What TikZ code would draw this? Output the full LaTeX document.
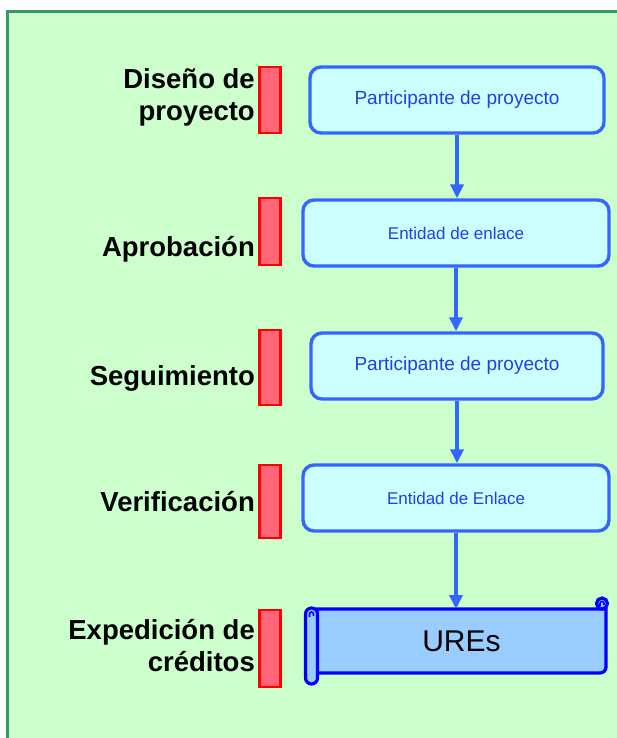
\documentclass[tikz,border=0pt]{standalone}
\usepackage{fontspec}
\setmainfont{Liberation Sans}
\usetikzlibrary{arrows.meta}
\definecolor{bggreen}{RGB}{204,255,204}
\definecolor{bgborder}{RGB}{51,153,102}
\definecolor{boxblue}{RGB}{51,102,255}
\definecolor{boxfill}{RGB}{204,255,255}
\definecolor{boxtext}{RGB}{40,60,230}
\definecolor{barfill}{RGB}{255,102,119}
\definecolor{barline}{RGB}{255,0,0}
\definecolor{scrollfill}{RGB}{153,204,255}
\definecolor{scrollline}{RGB}{0,0,255}
\tikzset{
  stagebox/.style={draw=boxblue, fill=boxfill, line width=3.4pt, rounded corners=11pt,
    minimum height=66pt, text=boxtext, inner sep=0pt, font=\fontsize{17}{20}\selectfont},
  stagebar/.style={draw=barline, fill=barfill, line width=2.6pt, minimum width=21pt, inner sep=0pt},
  stagelabel/.style={anchor=east, align=right, inner sep=0pt, font=\bfseries\fontsize{27.5}{32}\selectfont},
  flow/.style={draw=boxblue, line width=4pt, -{Triangle[length=14pt,width=13pt]}},
}
\begin{document}
\begin{tikzpicture}[x=1pt,y=-1pt]
\useasboundingbox (0,0) rectangle (617,738);
\fill[bggreen] (7,12) rectangle (640,760);
\draw[bgborder, line width=3pt] (640,12) -- (7,12) -- (7,760);

% boxes
\node[stagebox, minimum width=294pt, font=\fontsize{19}{22}\selectfont] (b1) at (457,100) {Participante de proyecto};
\node[stagebox, minimum width=306pt] (b2) at (456,233) {Entidad de enlace};
\node[stagebox, minimum width=292pt, font=\fontsize{19}{22}\selectfont] (b3) at (457,366) {Participante de proyecto};
\node[stagebox, minimum width=306pt] (b4) at (456,498) {Entidad de Enlace};

% scroll
\coordinate (ures) at (461.5,641);
\coordinate (urestop) at (461.5,609);
\begin{scope}[draw=scrollline, line width=3.2pt, fill=scrollfill]
  \filldraw (317,609) -- (606,609) -- (606,667) arc[start angle=0, end angle=90, radius=6] -- (317,673) -- cycle;
  \filldraw (602,603.5) circle[radius=5.5];
  \draw[line width=1.6pt] (600,606) -- (600,603.5) arc[start angle=180, end angle=360, radius=2] -- (604,605);
  \filldraw[rounded corners=6pt] (305.5,608) rectangle (317.5,684);
  \draw[line width=1.6pt] (309.5,617) -- (309.5,614) arc[start angle=180, end angle=360, radius=2] -- (313.5,616);
\end{scope}
\node[inner sep=0pt, font=\fontsize{30}{34}\selectfont] (urestext) at (ures) {UREs};

% arrows
\draw[flow] (b1.south) -- (b2.north -| b1.south);
\draw[flow] (b2.south) -- (b3.north -| b2.south);
\draw[flow] (b3.south) -- (b4.north -| b3.south);
\draw[flow] (b4.south) -- (b4.south |- urestop);

% bars
\node[stagebar, minimum height=66pt] (bar1) at (270,100) {};
\node[stagebar, minimum height=67pt] (bar2) at (270,231.5) {};
\node[stagebar, minimum height=75pt] (bar3) at (270,367.5) {};
\node[stagebar, minimum height=73pt] (bar4) at (270,501.5) {};
\node[stagebar, minimum height=77pt] (bar5) at (270,648.5) {};

% labels
\node[stagelabel] (l1) at (255,97) {Diseño de\\proyecto};
\node[stagelabel] (l2) at (255,249) {Aprobación};
\node[stagelabel] (l3) at (255,378) {Seguimiento};
\node[stagelabel] (l4) at (255,502) {Verificación};
\node[stagelabel] (l5) at (255,646) {Expedición de\\créditos};
\end{tikzpicture}
\end{document}
